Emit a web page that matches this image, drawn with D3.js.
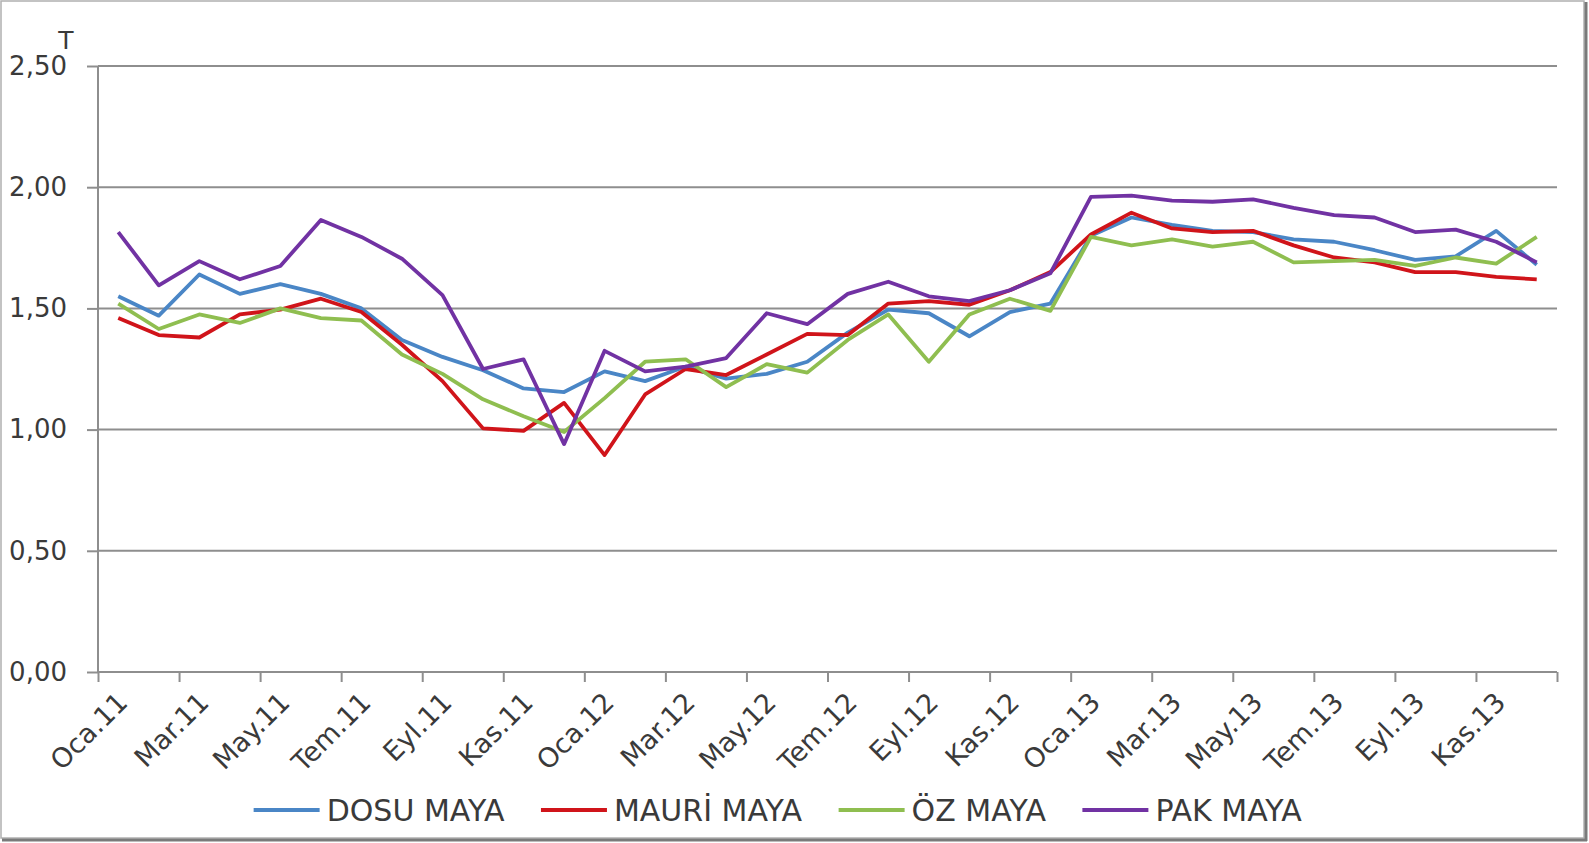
<!DOCTYPE html>
<html>
<head>
<meta charset="utf-8">
<script src="https://cdn.jsdelivr.net/npm/d3@7"></script>
<style>
  body { margin: 0; background: #fff; }
  text { font-family: "DejaVu Sans", Verdana, sans-serif; fill: #3a3a3a; }
</style>
</head>
<body>
<div id="chart"></div>
<script>
// months, Oca.11 .. Ara.13
var months = ["Oca.11","Şub.11","Mar.11","Nis.11","May.11","Haz.11","Tem.11","Ağu.11","Eyl.11","Eki.11","Kas.11","Ara.11",
              "Oca.12","Şub.12","Mar.12","Nis.12","May.12","Haz.12","Tem.12","Ağu.12","Eyl.12","Eki.12","Kas.12","Ara.12",
              "Oca.13","Şub.13","Mar.13","Nis.13","May.13","Haz.13","Tem.13","Ağu.13","Eyl.13","Eki.13","Kas.13","Ara.13"];

var dosu  = [1.55,1.47,1.64,1.56,1.60,1.56,1.50,1.37,1.30,1.245,1.17,1.155,
             1.24,1.20,1.26,1.21,1.23,1.28,1.40,1.495,1.48,1.385,1.485,1.52,
             1.80,1.875,1.845,1.82,1.815,1.785,1.775,1.74,1.70,1.715,1.82,1.68];
var mauri = [1.46,1.39,1.38,1.475,1.495,1.54,1.485,1.35,1.20,1.005,0.995,1.11,
             0.895,1.145,1.25,1.225,1.31,1.395,1.39,1.52,1.53,1.515,1.575,1.65,
             1.805,1.895,1.83,1.815,1.82,1.76,1.71,1.69,1.65,1.65,1.63,1.62];
var oz    = [1.52,1.415,1.475,1.44,1.50,1.46,1.45,1.31,1.23,1.125,1.055,0.99,
             1.13,1.28,1.29,1.175,1.27,1.235,1.37,1.475,1.28,1.475,1.54,1.49,
             1.795,1.76,1.785,1.755,1.775,1.69,1.695,1.70,1.675,1.71,1.685,1.795];
var pak   = [1.815,1.595,1.695,1.62,1.675,1.865,1.795,1.705,1.555,1.25,1.29,0.94,
             1.325,1.24,1.26,1.295,1.48,1.435,1.56,1.61,1.55,1.53,1.575,1.645,
             1.96,1.965,1.945,1.94,1.95,1.915,1.885,1.875,1.815,1.825,1.775,1.69];

var seriesNames = ["DOSU MAYA", "MAURİ MAYA", "ÖZ MAYA", "PAK MAYA"];
var yTicks = [0, 0.5, 1, 1.5, 2, 2.5];
var unitLabel = "T";

var W = 1589, H = 843;
var colors = ["#4a86c6", "#d0141a", "#8fbe50", "#7132a3"];
var series = [dosu, mauri, oz, pak];

var svg = d3.select("#chart").append("svg").attr("width", W).attr("height", H);

// frame with shadow on right/bottom
svg.append("rect").attr("x", 1).attr("y", 1).attr("width", 1583).attr("height", 837)
    .attr("fill", "#fff").attr("stroke", "#b0b0b0").attr("stroke-width", 1.5);
svg.append("line").attr("x1", 1586).attr("x2", 1586).attr("y1", 2).attr("y2", 841)
    .attr("stroke", "#7a7a7a").attr("stroke-width", 3);
svg.append("line").attr("x1", 2).attr("x2", 1587).attr("y1", 840).attr("y2", 840)
    .attr("stroke", "#7a7a7a").attr("stroke-width", 3);

var plotLeft = 98, plotRight = 1557, plotTop = 66, plotBottom = 672;

var x = d3.scaleBand().domain(months).range([plotLeft, plotRight]);
var xb = d3.scaleLinear().domain([0, months.length]).range([plotLeft, plotRight]);
var y = d3.scaleLinear().domain([0, 2.5]).range([plotBottom, plotTop]);

var fmt = function (d) { return d3.format(".2f")(d).replace(".", ","); };

// gridlines
svg.append("g").selectAll("line")
    .data(yTicks.filter(function (d) { return d > 0; }))
    .enter().append("line")
    .attr("x1", plotLeft).attr("x2", plotRight)
    .attr("y1", function (d) { return y(d); })
    .attr("y2", function (d) { return y(d); })
    .attr("stroke", "#8e8e8e").attr("stroke-width", 2);

// y axis
var yAxis = svg.append("g").attr("transform", "translate(" + plotLeft + ",0)")
    .call(d3.axisLeft(y).tickValues(yTicks).tickFormat(fmt).tickSize(11).tickPadding(20));
yAxis.selectAll("path, line").attr("stroke", "#8e8e8e").attr("stroke-width", 2);
yAxis.select(".domain").attr("d", "M0," + plotTop + "V" + plotBottom);
yAxis.selectAll("text").style("font-size", "26px").attr("fill", "#3a3a3a")
    .attr("font-family", null);

// x axis: ticks every 2 categories on band boundaries
var xTickVals = d3.range(0, months.length + 1, 2);
var xAxis = svg.append("g").attr("transform", "translate(0," + plotBottom + ")")
    .call(d3.axisBottom(xb).tickValues(xTickVals).tickFormat("").tickSize(10));
xAxis.selectAll("path, line").attr("stroke", "#8e8e8e").attr("stroke-width", 2);
xAxis.select(".domain").attr("d", "M" + plotLeft + ",0H" + plotRight);

svg.append("g").selectAll("text")
    .data(months.filter(function (d, i) { return i % 2 === 0; }))
    .enter().append("text")
    .attr("text-anchor", "end")
    .style("font-size", "27px")
    .attr("transform", function (d) {
        var cx = x(d) + x.bandwidth() / 2 + 11;
        return "translate(" + cx + "," + (plotBottom + 32) + ") rotate(-45)";
    })
    .text(function (d) { return d; });

// unit label
svg.append("text").attr("x", 66).attr("y", 49).attr("text-anchor", "middle")
    .style("font-size", "25px").text(unitLabel);

// lines
var line = d3.line()
    .x(function (d, i) { return x(months[i]) + x.bandwidth() / 2; })
    .y(function (d) { return y(d); });

svg.append("g").selectAll("path")
    .data(series)
    .enter().append("path")
    .attr("d", line)
    .attr("fill", "none")
    .attr("stroke", function (d, i) { return colors[i]; })
    .attr("stroke-width", 3.8)
    .attr("stroke-linejoin", "round");

// legend
var legend = svg.append("g").attr("transform", "translate(0,810)");
var items = legend.selectAll("g").data(seriesNames).enter().append("g");
items.append("line").attr("x1", 0).attr("x2", 66).attr("y1", 0).attr("y2", 0)
    .attr("stroke", function (d, i) { return colors[i]; }).attr("stroke-width", 3.8);
items.append("text").attr("x", 73).attr("y", 11).style("font-size", "30px")
    .text(function (d) { return d; });
var gap = 36, pos = 0, offsets = [];
items.each(function () {
    offsets.push(pos);
    pos += this.getBBox().width + gap;
});
var start = 778 - (pos - gap) / 2;
items.attr("transform", function (d, i) { return "translate(" + (start + offsets[i]) + ",0)"; });
</script>
</body>
</html>
